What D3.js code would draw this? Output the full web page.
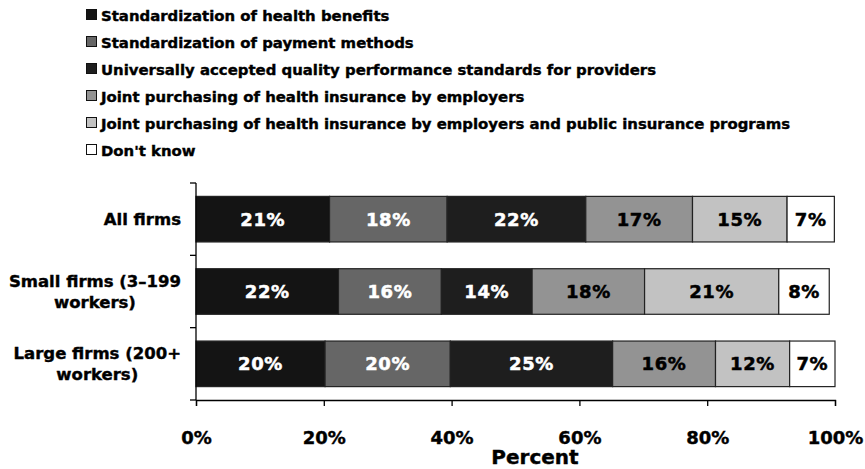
<!DOCTYPE html>
<html>
<head>
<meta charset="utf-8">
<script src="https://cdn.jsdelivr.net/npm/d3@7"></script>
<style>
  body { margin: 0; background: #fff; }
  .wide { font-family: "DejaVu Sans", sans-serif; font-weight: bold; }
</style>
</head>
<body>
<div class="canvas"></div>
<script>
// Data
const categories = ['All firms', 'Small firms (3\u2013199 workers)', 'Large firms (200+ workers)']
const categoryLines = [['All firms'], ['Small firms (3\u2013199', 'workers)'], ['Large firms (200+', 'workers)']]
const seriesNames = [
  'Standardization of health benefits',
  'Standardization of payment methods',
  'Universally accepted quality performance standards for providers',
  'Joint purchasing of health insurance by employers',
  'Joint purchasing of health insurance by employers and public insurance programs',
  "Don't know"
]
// values per category, in series order (percent)
const allFirms = [20.9, 18.4, 21.7, 16.7, 14.8, 7.4]
const smallFirms = [22.3, 16.1, 14.2, 17.6, 21.0, 7.9]
const largeFirms = [20.2, 19.6, 25.4, 16.1, 11.6, 7.1]
const barLabels = [
  ['21%', '18%', '22%', '17%', '15%', '7%'],
  ['22%', '16%', '14%', '18%', '21%', '8%'],
  ['20%', '20%', '25%', '16%', '12%', '7%']
]
const xTicks = [0, 20, 40, 60, 80, 100]
const colors = ['#141414', '#666666', '#1e1e1e', '#939393', '#c2c2c2', '#ffffff']
const textColors = ['#fff', '#fff', '#fff', '#000', '#000', '#000']

const values = [allFirms, smallFirms, largeFirms]

const width = 865
const height = 469

const svg = d3.select('.canvas')
  .append('svg')
  .attr('width', width)
  .attr('height', height)

const margin = { top: 183, left: 196, right: 30, bottom: 69 }
const plotW = 835 - margin.left
const plotH = 400 - margin.top

const graph = svg.append('g')
  .attr('transform', `translate(${margin.left}, ${margin.top})`)

// Scales
const x = d3.scaleLinear().domain([0, 100]).range([0, plotW])
const y = d3.scaleBand().domain(categories).range([0, plotH]).paddingInner(0.37).paddingOuter(0.185)
const yGrid = d3.scaleBand().domain(categories).range([0, plotH])

// Legend
const legend = svg.append('g').attr('transform', 'translate(86, 0)')
seriesNames.forEach((name, i) => {
  const g = legend.append('g').attr('transform', `translate(0, ${15 + i * 27})`)
  g.append('rect')
    .attr('x', 0.5).attr('y', -5.5)
    .attr('width', 10).attr('height', 10)
    .attr('fill', colors[i])
    .attr('stroke', '#111')
    .attr('stroke-width', 1)
  g.append('text')
    .attr('class', 'wide')
    .attr('x', 15)
    .attr('y', 5.5)
    .attr('font-size', 14.9)
    .attr('stroke', '#000')
    .attr('stroke-width', 0.4)
    .text(name)
})

// Stacked bars
const stack = values.map((vals, ci) => {
  let acc = 0
  return vals.map((v, si) => {
    const d = { cat: categories[ci], ci, si, x0: acc, x1: acc + v, label: barLabels[ci][si] }
    acc += v
    return d
  })
}).flat()

graph.selectAll('rect.seg')
  .data(stack)
  .enter()
  .append('rect')
  .attr('class', 'seg')
  .attr('x', d => x(d.x0))
  .attr('y', d => y(d.cat))
  .attr('width', d => x(d.x1) - x(d.x0))
  .attr('height', y.bandwidth())
  .attr('fill', d => colors[d.si])
  .attr('stroke', '#222')
  .attr('stroke-width', 1.2)

graph.selectAll('text.seg')
  .data(stack)
  .enter()
  .append('text')
  .attr('class', 'wide')
  .attr('x', d => x((d.x0 + d.x1) / 2))
  .attr('y', d => y(d.cat) + y.bandwidth() / 2 + 6.5)
  .attr('text-anchor', 'middle')
  .attr('font-size', 18)
  .attr('letter-spacing', 0.6)
  .attr('fill', d => textColors[d.si])
  .attr('stroke', d => textColors[d.si])
  .attr('stroke-width', 0.5)
  .text(d => d.label)

// Axes
const xAxis = d3.axisBottom(x)
  .tickValues(xTicks)
  .tickSize(6)
  .tickPadding(0)
  .tickFormat(d => d + '%')
const xAxisGroup = graph.append('g')
  .attr('transform', `translate(0, ${plotH})`)
  .call(xAxis)
xAxisGroup.select('.domain').attr('stroke', '#000').attr('stroke-width', 1.3)
xAxisGroup.selectAll('.tick line').attr('stroke', '#000').attr('stroke-width', 1.3)
xAxisGroup.selectAll('text')
  .attr('class', 'wide')
  .attr('y', 44)
  .attr('dy', null)
  .attr('font-size', 18)
  .attr('fill', '#000')
  .attr('stroke', '#000')
  .attr('stroke-width', 0.4)

// y axis with ticks at band boundaries
const yAxisGroup = graph.append('g')
yAxisGroup.append('line')
  .attr('x1', 0).attr('x2', 0)
  .attr('y1', 0).attr('y2', plotH)
  .attr('stroke', '#000').attr('stroke-width', 1.3)
yAxisGroup.selectAll('line.tick')
  .data([0].concat(categories.map(c => yGrid(c) + yGrid.bandwidth())))
  .enter()
  .append('line')
  .attr('class', 'tick')
  .attr('x1', -6).attr('x2', 0)
  .attr('y1', d => d).attr('y2', d => d)
  .attr('stroke', '#000').attr('stroke-width', 1.3)

// Category labels
categoryLines.forEach((lines, ci) => {
  const g = svg.append('g')
  const texts = lines.map((line, li) => g.append('text')
    .attr('class', 'wide')
    .attr('font-size', 16.5)
    .attr('text-anchor', 'middle')
    .attr('stroke', '#000')
    .attr('stroke-width', 0.4)
    .text(line))
  const maxW = d3.max(texts, t => t.node().getComputedTextLength())
  const cx = 181 - maxW / 2
  const cy = margin.top + y(categories[ci]) + y.bandwidth() / 2
  const lineH = 21
  texts.forEach((t, li) => {
    t.attr('x', cx)
      .attr('y', cy + 5.5 + (li - (lines.length - 1) / 2) * lineH)
  })
})

// Axis title
svg.append('text')
  .attr('class', 'wide')
  .attr('x', 535)
  .attr('y', 464)
  .attr('text-anchor', 'middle')
  .attr('font-size', 20)
  .attr('stroke', '#000')
  .attr('stroke-width', 0.4)
  .text('Percent')
</script>
</body>
</html>
